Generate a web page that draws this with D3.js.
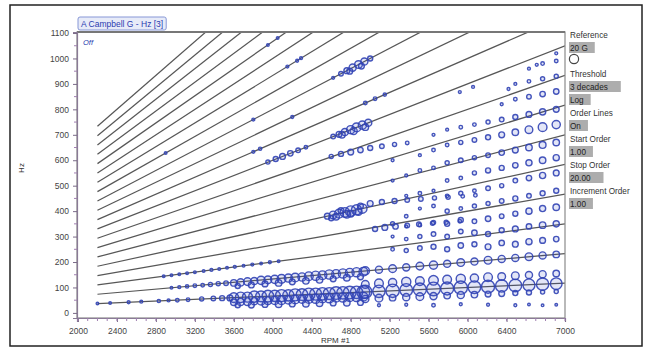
<!DOCTYPE html>
<html><head><meta charset="utf-8">
<script src="https://cdn.jsdelivr.net/npm/d3@7"></script>
<style>body{margin:0;background:#fff}svg{display:block}text{font-family:"Liberation Sans",Arial,sans-serif}</style>
</head><body><svg id="c" width="647" height="350"></svg>
<script>
// ---------- data ----------
const chartTitle = "A Campbell G - Hz [3]";
const xLabel = "RPM #1", yLabel = "Hz";
const xTickValues = [2000,2400,2800,3200,3600,4000,4400,4800,5200,5600,6000,6400,7000];
const yTickValues = [0,100,200,300,400,500,600,700,800,900,1000,1100];
const startOrder = 1, stopOrder = 20, incrementOrder = 1;
const orderLineRpm = [2200, 7000];
const referenceAmp = 20;
const panelLabels = ["Reference","Threshold","Order Lines","Start Order","Stop Order","Increment Order"];
const panelValues = [["20 G"],["3 decades","Log"],["On"],["1.00"],["20.00"],["1.00"]];

// [rpm, hz, amplitude G]
const order1Low = [[2200,37,1],[2330,39,1.5],[2520,42,2],[2650,44,2],[2830,47,2.5],[2930,49,2],[3020,50,3],[3130,52,3],[3270,55,4],[3390,57,5],[3480,58,6],[3560,59,8]];
const order1Dense = [
[3600,60,22],[3670,61,26],[3740,62,24],[3810,64,30],[3880,65,28],[3950,66,32],[4020,67,30],[4090,68,34],[4160,69,30],[4230,71,34],[4300,72,32],[4370,73,36],[4440,74,34],[4510,75,36],[4580,76,34],[4650,78,38],[4720,79,36],[4790,80,38],[4860,81,36],[4930,82,40],
[3600,42,10],[3670,43,12],[3740,44,14],[3810,46,12],[3880,47,16],[3950,48,14],[4020,49,16],[4090,50,18],[4160,51,16],[4230,53,18],[4300,54,16],[4370,55,18],[4440,56,20],[4510,57,18],[4580,58,20],[4650,60,18],[4720,61,20],[4790,62,18],[4860,63,20],[4930,64,18],
[3640,30,6],[3780,31,8],[3920,33,8],[4060,34,10],[4200,35,8],[4340,36,10],[4480,38,10],[4620,39,8],[4760,40,10],[4900,41,8]];
const order2Pts = [[2960,99,1.5],[3040,101,2],[3120,104,2.5],[3200,107,3],[3280,109,3],[3360,112,4],[3440,115,4],[3520,117,5],
[3600,118,10],[3670,120,12],[3740,123,14],[3810,125,12],[3880,128,16],[3950,130,14],[4020,132,16],[4090,134,18],[4160,137,16],[4230,139,18],[4300,141,16],[4370,144,18],[4440,146,20],[4510,148,18],[4580,151,20],[4650,153,18],[4720,155,20],[4790,158,18],[4860,160,20],[4930,162,18],
[3640,106,6],[3780,110,8],[3920,114,8],[4060,118,10],[4200,122,8],[4340,126,10],[4480,130,10],[4620,134,8],[4760,138,10],[4900,142,8]];
const order3Pts = [[2880,144,1],[2960,148,1.5],[3040,152,1],[3120,156,1.5],[3200,160,1],[3290,165,1.5],[3370,169,2],[3450,173,1.5],[3530,177,1.5],[3610,181,2],[3700,185,1.5],[3790,190,2],[3880,194,1.5],[3970,199,2],[4060,203,1.5]];
const bottomRowPts = [
[4950,83,40],[5090,85,36],[5230,87,42],[5370,90,38],[5510,92,40],[5650,94,44],[5790,96,40],[5930,99,42],[6070,101,38],[6210,103,40],[6350,106,36],[6490,108,38],[6630,110,34],[6770,113,36],[6910,115,32],
[4950,55,12],[5090,58,14],[5230,60,10],[5370,62,12],[5510,64,14],[5650,66,12],[5790,68,10],[5930,70,12],[6070,72,10],[6210,74,8],[6350,76,8],[6490,78,6],[6630,80,6],[6770,82,4],[6910,84,4],
[5090,30,2],[5370,32,2],[5650,30,3],[5930,34,2],[6210,32,2],[6490,30,2],[6630,33,1.5],[6770,30,1.5],[6910,32,1.5],
[4950,112,14],[5090,116,18],[5230,119,16],[5370,122,20],[5510,125,18],[5650,128,22],[5790,131,18],[5930,134,20],[6070,137,16],[6210,140,18],[6350,143,14],[6490,146,14],[6630,149,12],[6770,152,12],[6910,155,10]];
const order2RightPts = [[4950,165,16],[5090,170,12],[5230,174,14],[5370,179,12],[5510,184,14],[5650,188,16],[5790,193,12],[5930,198,14],[6070,202,12],[6210,207,14],[6350,212,12],[6490,216,12],[6630,221,14],[6770,226,12],[6910,230,10]];
const columnPts = [
[5230,250,3],[5230,300,2],[5230,350,4],[5230,520,2],[5230,600,2],
[5370,245,4],[5370,290,3],[5370,340,2],[5370,380,3],[5370,460,2],[5370,540,2],
[5510,255,5],[5510,300,4],[5510,345,3],[5510,410,2],[5510,470,3],[5510,560,3],[5510,620,2],
[5650,260,6],[5650,310,5],[5650,355,4],[5650,420,3],[5650,480,2],[5650,570,3],[5650,640,3],[5650,700,2],
[5790,250,6],[5790,300,5],[5790,350,6],[5790,400,4],[5790,460,3],[5790,520,3],[5790,590,4],[5790,660,3],[5790,720,2],
[5930,265,7],[5930,320,5],[5930,365,6],[5930,410,3],[5930,470,4],[5930,530,3],[5930,600,5],[5930,670,4],[5930,730,3],
[6070,270,6],[6070,315,7],[6070,360,5],[6070,420,4],[6070,480,3],[6070,550,4],[6070,610,4],[6070,680,5],[6070,740,3],
[6210,260,8],[6210,310,6],[6210,370,7],[6210,430,4],[6210,490,5],[6210,560,6],[6210,620,5],[6210,690,6],[6210,750,4],
[6350,275,7],[6350,325,6],[6350,380,5],[6350,440,5],[6350,500,4],[6350,570,6],[6350,630,7],[6350,700,8],[6350,760,5],[6350,820,2],
[6490,270,8],[6490,330,8],[6490,390,6],[6490,450,6],[6490,520,5],[6490,580,7],[6490,640,8],[6490,710,10],[6490,770,6],[6490,840,3],[6490,900,2],
[6630,280,9],[6630,340,7],[6630,400,9],[6630,460,5],[6630,530,7],[6630,590,9],[6630,650,10],[6630,720,14],[6630,780,8],[6630,850,5],[6630,910,3],[6630,960,2],
[6770,285,8],[6770,345,10],[6770,410,9],[6770,470,6],[6770,540,9],[6770,600,10],[6770,660,11],[6770,730,18],[6770,790,9],[6770,860,7],[6770,920,4],[6770,980,3],
[6910,290,7],[6910,350,9],[6910,415,10],[6910,480,6],[6910,550,8],[6910,610,9],[6910,670,10],[6910,740,16],[6910,800,8],[6910,870,7],[6910,930,4],[6910,990,3],[6910,1020,2]];
const order5Pts = [[4560,380,8],[4620,385,14],[4680,390,18],[4740,395,22],[4800,400,26],[4860,405,24],[4920,410,20],[4600,372,6],[4700,402,8],[4800,390,10],[4900,420,8],[4650,378,10],[4760,388,14],[4880,398,12],
[5000,430,8],[5120,436,6],[5250,440,6],[5380,444,5],[5520,448,5],[5660,452,4],[5800,455,4],[5950,458,3],[6080,462,3]];
const order4Pts = [[5050,330,6],[5150,336,8],[5260,340,7],[5380,344,5],[5500,348,5],[5640,352,4],[5780,356,4],[5920,360,3]];
const upperPts = [
[4600,615,4],[4700,625,6],[4800,632,8],[4900,640,7],[5000,648,6],[5120,655,5],[5250,662,4],[5380,668,3],
[4620,693,5],[4680,702,8],[4740,711,12],[4800,720,16],[4860,729,18],[4920,738,16],[4980,747,12],[4710,700,10],[4830,715,12],[4950,730,10],
[4700,940,5],[4760,952,8],[4820,964,12],[4880,976,14],[4940,988,12],[5000,1000,6],[4790,950,8],[4910,970,8],
[3950,593,4],[4030,605,6],[4100,615,8],[4180,627,7],[4260,639,5],[4340,651,3],
[3800,633,2],[3870,645,2.5],[2900,628,1.5],[3800,760,2],[4200,770,2],[4150,968,2],[4250,991,2],[4290,1001,2],
[3950,1053,1.5],[4050,1080,1.5],[4620,924,2],[4950,825,3],[5050,842,3],[5150,858,2.5],
[5920,868,2],[6056,888,2],[6420,880,2],[6710,975,2]];

// ---------- layout ----------
const svg = d3.select("#c");
const plot = {l:77, r:565, t:32, b:318};
const x = d3.scaleLinear().domain([1990,7000]).range([plot.l, plot.r]);
const y = d3.scaleLinear().domain([-20,1104]).range([plot.b, plot.t]);
const rS = d3.scaleSqrt().domain([0, referenceAmp]).range([0, 4.6]);

svg.append("rect").attr("x",10).attr("y",5).attr("width",632).attr("height",341)
  .attr("fill","#fff").attr("stroke","#222").attr("stroke-width",1.5);

svg.append("defs").append("clipPath").attr("id","pc").append("rect")
  .attr("x",plot.l).attr("y",plot.t).attr("width",plot.r-plot.l).attr("height",plot.b-plot.t);

const orders = d3.range(startOrder, stopOrder + incrementOrder/2, incrementOrder);
const line = d3.line().x(d=>x(d[0])).y(d=>y(d[1]));
svg.append("g").attr("clip-path","url(#pc)").selectAll("path").data(orders).join("path")
  .attr("d", o => line(orderLineRpm.map(r => [r, o*r/60])))
  .attr("fill","none").attr("stroke","#575757").attr("stroke-width",1.25);

const allPts = [].concat(order1Low, order1Dense, order2Pts, order3Pts, bottomRowPts, order2RightPts, columnPts, order5Pts, order4Pts, upperPts);
svg.append("g").attr("clip-path","url(#pc)").selectAll("circle").data(allPts).join("circle")
  .attr("cx", d=>x(d[0])).attr("cy", d=>y(d[1])).attr("r", d=>Math.max(1.3, rS(d[2])))
  .attr("fill","rgba(55,75,195,0.14)").attr("stroke","#3143b4").attr("stroke-width",1.4).attr("stroke-opacity",0.9);

svg.append("rect").attr("x",plot.l).attr("y",plot.t).attr("width",plot.r-plot.l).attr("height",plot.b-plot.t)
  .attr("fill","none").attr("stroke","#8a8a8a").attr("stroke-width",1.2);
svg.append("line").attr("x1",plot.l).attr("x2",plot.r).attr("y1",plot.t).attr("y2",plot.t).attr("stroke","#777").attr("stroke-width",2);

const xAxis = d3.axisBottom(x).tickValues(xTickValues).tickSize(4).tickPadding(6).tickFormat(d3.format("d"));
const gx = svg.append("g").attr("transform",`translate(0,${plot.b})`).call(xAxis);
svg.append("g").selectAll("line").data(d3.range(2000, 7001, 100)).join("line")
  .attr("x1",d=>x(d)).attr("x2",d=>x(d)).attr("y1",plot.b).attr("y2",plot.b+3).attr("stroke","#a07fb0").attr("stroke-width",1);
const yAxis = d3.axisLeft(y).tickValues(yTickValues).tickSize(4).tickPadding(4).tickFormat(d3.format("d"));
const gy = svg.append("g").attr("transform",`translate(${plot.l},0)`).call(yAxis);
svg.append("g").selectAll("line").data(d3.range(50, 1100, 100)).join("line")
  .attr("x1",plot.l-3).attr("x2",plot.l).attr("y1",d=>y(d)).attr("y2",d=>y(d)).attr("stroke","#a07fb0").attr("stroke-width",1);
[gx,gy].forEach(g=>{
  g.select(".domain").attr("stroke","#8a7a96").attr("stroke-width",1.2);
  g.selectAll(".tick line").attr("stroke","#7a6a88");
  g.selectAll(".tick text").attr("fill","#444").attr("font-size",8.5).attr("font-family","Liberation Sans, Arial, sans-serif");
});

svg.append("text").attr("x",321).attr("y",343).attr("font-size",8).attr("fill","#333").text(xLabel);
svg.append("text").attr("transform","translate(24,168) rotate(-90)").attr("text-anchor","middle")
  .attr("font-size",8).attr("fill","#333").text(yLabel);

const titleRect = svg.append("rect").attr("x",78).attr("y",17).attr("height",13)
  .attr("fill","#e7ebf8").attr("stroke","#8797d6").attr("rx",2);
const tt = svg.append("text").attr("x",81).attr("y",27).attr("font-size",8.5).attr("fill","#2a3cb0").text(chartTitle);
titleRect.attr("width", tt.node().getComputedTextLength()+6);
svg.append("text").attr("x",83).attr("y",45).attr("font-size",7.5).attr("font-style","italic").attr("fill","#2a3cb0").text("Off");

let py = 38;
panelLabels.forEach((lab,i)=>{
  svg.append("text").attr("x",570).attr("y",py).attr("font-size",8.2).attr("fill","#333").text(lab);
  py += 13;
  panelValues[i].forEach(v=>{
    const r = svg.append("rect").attr("x",569).attr("y",py-9).attr("height",11).attr("fill","#adadad");
    const t = svg.append("text").attr("x",570).attr("y",py).attr("font-size",8.2).attr("fill","#222").text(v);
    r.attr("width", t.node().getComputedTextLength()+(v.length>4?14:8));
    py += 13;
  });
  if(i===0){
    svg.append("circle").attr("cx",574).attr("cy",py-5).attr("r",rS(referenceAmp))
      .attr("fill","#fff").attr("stroke","#444").attr("stroke-width",1.2);
    py += 13;
  }
});
</script></body></html>
